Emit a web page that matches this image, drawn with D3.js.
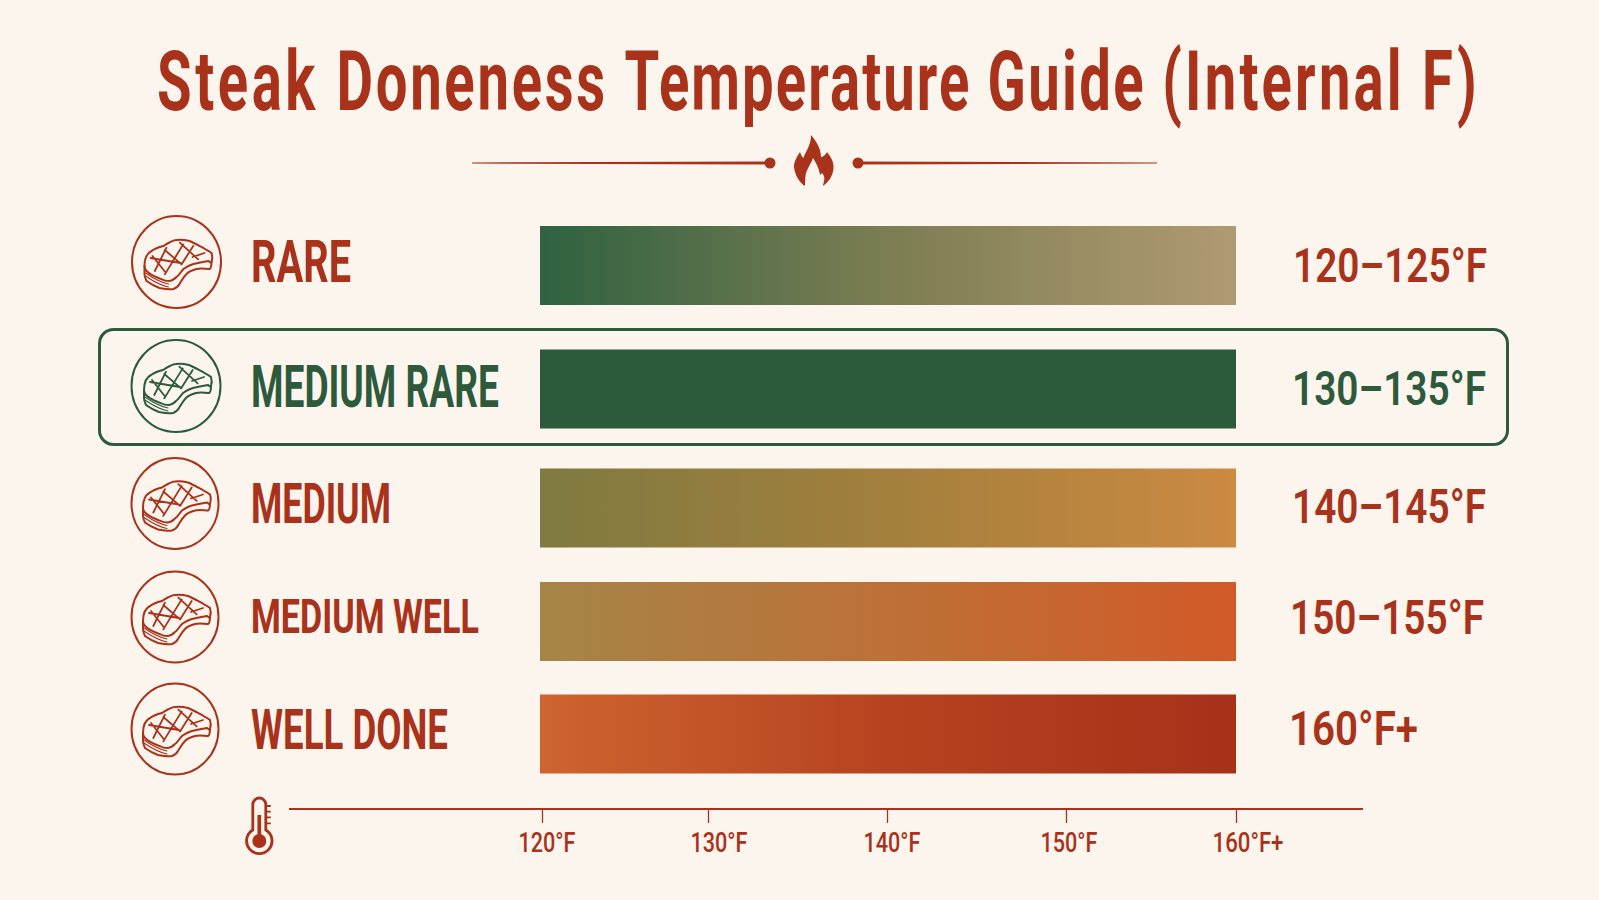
<!DOCTYPE html>
<html><head><meta charset="utf-8">
<script src="https://cdn.jsdelivr.net/npm/d3@7/dist/d3.min.js"></script>
<style>html,body{margin:0;padding:0;background:#fcf5ee}svg{display:block}</style></head>
<body><svg id="c" width="1599" height="900"></svg>
<script>
const titleWords = ["Steak ","Doneness ","Temperature ","Guide ","(Internal ","F)"];
const categories = ["RARE","MEDIUM RARE","MEDIUM","MEDIUM WELL","WELL DONE"];
const rangeLabels = ["120–125°F","130–135°F","140–145°F","150–155°F","160°F+"];
const barStart = [120,120,120,120,120];
const barEnd = [160,160,160,160,160];
const gradStart = ["#2f6241","#2c5a3b","#7f7a41","#a58546","#ce6430"];
const gradMid = ["#7c7d52","#2c5a3b","#a37f3c","#bd7038","#b5431f"];
const gradEnd = ["#b09a72","#2c5a3b","#cc8a42","#d15a28","#a63119"];
const tickValues = [120,130,140,150,160];
const tickLabels = ["120°F","130°F","140°F","150°F","160°F+"];
const highlighted = "MEDIUM RARE";

const RED="#a9321b", GREEN="#2c5a3b", FONT="Roboto,'Liberation Sans',sans-serif";
const svg=d3.select("#c");
svg.append("rect").attr("width",1599).attr("height",900).attr("fill","#fcf5ee");
const defs=svg.append("defs");

const x=d3.scaleLinear().domain(tickValues).range([542,708,887,1066,1236]);
const barX=d3.scaleLinear().domain([120,160]).range([540,1236]);
const y=d3.scaleOrdinal().domain(categories).range([265.5,389,508,621.5,734]);
const barH=79;
const colour=c=>c===highlighted?GREEN:RED;

// squeeze a text horizontally so that it spans len pixels starting at px,py
function fit(node,px,py,len){
  const s=len/node.getComputedTextLength();
  node.setAttribute("transform",`translate(${px},${py}) scale(${s},1)`);
}

// title
const wordSpacing=[5.3,4,3.1,3.5,4.7,6];
const title=svg.append("text").attr("font-family",FONT).attr("font-weight",700)
  .attr("font-size",83).attr("fill",RED);
title.selectAll("tspan").data(titleWords).join("tspan")
  .attr("letter-spacing",(d,i)=>wordSpacing[i]).text(d=>d);
title.each(function(){fit(this,157,110,1324);});

// divider
svg.append("path").attr("d","M472,162.5 L770,161.4 L770,164.6 L472,163.5 Z").attr("fill",RED);
svg.append("path").attr("d","M1157,162.5 L858,161.4 L858,164.6 L1157,163.5 Z").attr("fill",RED);
svg.append("circle").attr("cx",770).attr("cy",163).attr("r",5.5).attr("fill",RED);
svg.append("circle").attr("cx",858).attr("cy",163).attr("r",5.5).attr("fill",RED);
// flame
svg.append("path").attr("fill",RED).attr("d",
 "M811,135 C816,141 821,148 821,157 L822,157 C824,156 826,154 827,152 C831,157 834,162 833.5,168 C833,176 828,183 822.7,186 C825,180 825,176 822,173 L820,175 C819,168 816,163 813,158 C811,164 806,170 805.5,176 C805,180 805,183 805,186 C800,183 795,176 794,167 C794,161 797,157 800,152 C801,155 802,157 803.5,158 C805,152 811,146 811,135 Z");

// highlight box
svg.append("rect").attr("x",99.5).attr("y",329.5).attr("width",1408).attr("height",115).attr("rx",14)
  .attr("fill","none").attr("stroke",GREEN).attr("stroke-width",3);

// gradients
categories.forEach((c,i)=>{
  const g=defs.append("linearGradient").attr("id","bar"+i);
  g.append("stop").attr("offset",0).attr("stop-color",gradStart[i]);
  g.append("stop").attr("offset",.5).attr("stop-color",gradMid[i]);
  g.append("stop").attr("offset",1).attr("stop-color",gradEnd[i]);
});

// bars
svg.append("g").selectAll("rect").data(categories).join("rect")
  .attr("x",(c,i)=>barX(barStart[i]))
  .attr("width",(c,i)=>barX(barEnd[i])-barX(barStart[i]))
  .attr("y",c=>y(c)-barH/2).attr("height",barH)
  .attr("fill",(c,i)=>`url(#bar${i})`);

// icons
const iconDx=[176.5,176,175,175,175], iconDy=[-3.5,-3,-4.5,-4.5,-5], iconRx=[44.5,44.5,43.5,43.5,43.5], iconRy=[46,46,45.5,45.5,45.5];
const icons=svg.append("g").selectAll("g").data(categories).join("g")
  .attr("transform",(c,i)=>`translate(${iconDx[i]},${y(c)+iconDy[i]})`)
  .attr("fill","none").attr("stroke",colour).attr("stroke-linecap","round").attr("stroke-linejoin","round");
icons.append("ellipse").attr("rx",(c,i)=>iconRx[i]).attr("ry",(c,i)=>iconRy[i]).attr("stroke-width",2);
icons.append("path").attr("stroke-width",2).attr("d",
 "M-32,4 C-32,-4 -29,-9 -25,-11 C-21,-14 -17,-15 -13,-16 C-8,-19 -4,-22 0,-22 C5,-23 9,-22 13,-21 C18,-19 23,-16 27,-14 C30,-12 33,-11 35,-9 C36,-6 36,-3 35,0 C34,2 33,-1 32,-1 C26,0 21,1 17,2 C13,3 10,5 7,7 C4,10 3,13 0,15 C-3,18 -5,19 -8,19 C-12,19 -15,17 -18,16 C-23,14 -27,12 -30,9 C-31,8 -32,6 -32,4 Z");
icons.append("path").attr("stroke-width",2).attr("d",
 "M-32,4 L-32,12 C-32,15 -31,17 -30,19 C-26,22 -22,24 -17,26 C-12,27 -7,28 -3,27 C0,26 2,24 3,22 C5,19 7,15 10,12 C13,9 16,8 20,7 C25,6 29,7 33,7 C35,6 35,3 35,0");
icons.append("path").attr("stroke-width",1.1).attr("d",
 "M-31,11 C-25,15 -18,20 -8,22 M-31,14 C-25,18 -18,23 -8,25");
icons.append("path").attr("stroke-width",1.8).attr("d",
 "M-24,-6 L-10.7,10.7 M-11.7,-12 L5,2.4 M3.3,-19.3 L21.7,-2.6 M-21.7,9 L-10,-14.3 M-11.7,12.4 L6.7,-17.6 M5,2.4 L16.7,-16 M-26,-4 L4,1 M16,-5 L28,-9");

// category labels
const labelDy=[16.5,18,15,11.5,15], labelSize=[59,59,55,48,56], labelWidth=[100,248,140,228,197];
svg.append("g").selectAll("text").data(categories).join("text")
  .attr("font-family",FONT).attr("font-weight",700)
  .attr("font-size",(c,i)=>labelSize[i]).attr("fill",colour).text(c=>c)
  .each(function(c,i){fit(this,251,y(c)+labelDy[i],labelWidth[i]);});

// range labels
const rangeX=[1293,1292,1292,1290,1289], rangeDy=[16,16,15,12.5,11], rangeWidth=[194,194,194,194,129];
svg.append("g").selectAll("text").data(categories).join("text")
  .attr("font-family",FONT).attr("font-weight",600)
  .attr("font-size",49).attr("fill",colour).text((c,i)=>rangeLabels[i])
  .each(function(c,i){fit(this,rangeX[i],y(c)+rangeDy[i],rangeWidth[i]);});

// axis
const tickDx=[-24,-18,-24,-26,-24];
const axisG=svg.append("g").attr("transform","translate(0,809)")
  .call(d3.axisBottom(x).tickValues(tickValues).tickSize(14).tickPadding(0).tickFormat((d,i)=>tickLabels[i]));
axisG.select(".domain").remove();
axisG.append("line").attr("x1",289).attr("x2",1363).attr("stroke",RED).attr("stroke-width",2);
axisG.selectAll(".tick line").attr("stroke",RED).attr("stroke-width",1.3);
axisG.selectAll(".tick text").attr("text-anchor","start").attr("x",0).attr("y",0).attr("dy",0)
  .attr("font-family",FONT).attr("font-weight",500).attr("font-size",27).attr("fill",RED)
  .each(function(d,i){fit(this,tickDx[i],43,i===4?71:57);});

// thermometer
const th=svg.append("g").attr("transform","translate(259.3,0)").attr("fill","none").attr("stroke",RED).attr("stroke-width",2.8);
th.append("path").attr("d","M-6.5,830 L-6.5,804.5 A6.5,6.5 0 0 1 6.5,804.5 L6.5,830 A12.7,12.7 0 1 1 -6.5,830 Z");
th.append("circle").attr("cy",841).attr("r",7).attr("fill",RED).attr("stroke","none");
th.append("line").attr("y1",815).attr("y2",838).attr("stroke-width",3.7);
th.append("path").attr("stroke-width",1.8).attr("d","M6.5,806 H11.5 M6.5,811.7 H11.5 M6.5,817.3 H11.5 M6.5,823.3 H11.5");
</script></body></html>
